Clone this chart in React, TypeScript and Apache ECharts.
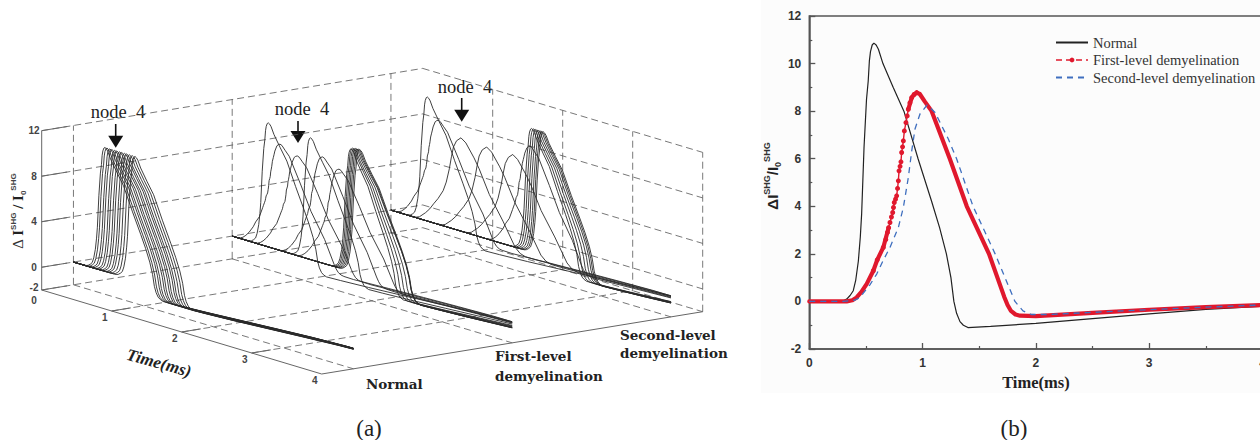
import React, { useEffect, useRef } from "react";
import * as echarts from "echarts";

// ---------- data: [time (ms), ΔI/I0] ----------
const normalCurve = [[0,0],[0.2,0.01],[0.3,0.03],[0.33,0.1],[0.36,0.25],[0.388,0.45],[0.41,0.9],[0.433,1.7],[0.45,2.7],[0.462,3.68],[0.483,6.47],[0.505,8.5],[0.52,9.27],[0.53,10.1],[0.54,10.5],[0.555,10.78],[0.57,10.86],[0.59,10.78],[0.61,10.6],[0.65,10],[0.74,9],[0.835,8],[0.96,6],[1.08,4.2],[1.15,3.1],[1.21,2],[1.25,1],[1.276,0],[1.3,-0.5],[1.33,-0.85],[1.36,-1],[1.4,-1.1],[1.6,-1.05],[2,-0.92],[2.5,-0.72],[3,-0.52],[3.5,-0.33],[4,-0.2]];
const firstRise = [[0.565,1.29],[0.6,1.75],[0.653,2.27],[0.675,2.6],[0.69,2.9],[0.7,3.1],[0.712,3.32],[0.725,3.55],[0.736,3.74],[0.743,3.95],[0.75,4.16],[0.761,4.3],[0.771,4.44],[0.779,4.75],[0.786,5.07],[0.792,5.49],[0.801,5.68],[0.809,5.87],[0.815,6.26],[0.823,6.5],[0.83,6.75],[0.839,7.17],[0.853,7.52],[0.864,7.8],[0.874,8.08],[0.888,8.35],[0.904,8.57],[0.925,8.7],[0.948,8.78]];
const firstLower = [[0,0],[0.2,0],[0.33,0],[0.38,0.05],[0.418,0.17],[0.46,0.4],[0.507,0.74],[0.565,1.29],[0.6,1.75],[0.653,2.27],[0.7,3.1]];
const firstUpper = [[0.874,8.08],[0.904,8.57],[0.925,8.7],[0.948,8.78],[0.975,8.72],[1.02,8.4],[1.08,8],[1.24,6],[1.39,4],[1.586,2],[1.72,0.2],[1.75,-0.15],[1.78,-0.4],[1.82,-0.55],[1.86,-0.6],[2,-0.62],[2.5,-0.48],[3,-0.35],[3.5,-0.24],[4,-0.15]];
const secondCurve = [[0,0],[0.3,0],[0.4,0.05],[0.447,0.17],[0.535,0.7],[0.595,1.15],[0.65,1.7],[0.712,2.27],[0.786,3.11],[0.83,3.95],[0.874,5.21],[0.904,6.33],[0.933,7.25],[0.977,7.88],[1.04,8.26],[1.11,7.94],[1.227,6.83],[1.3,6],[1.445,4],[1.64,2],[1.815,0],[1.886,-0.4],[1.96,-0.55],[2.1,-0.55],[2.5,-0.46],[3,-0.35],[3.5,-0.24],[4,-0.15]];
const firstCurve = [...firstLower, ...firstRise.filter((p) => p[0] > 0.7 && p[0] < 0.874), ...firstUpper];

// waterfall nodes: peak time, peak height, template curve, widening of the falling edge
const normalPeakTimes = [0.45,0.48,0.52,0.55,0.59,0.62,0.66,0.69,0.73,0.76,0.8,0.84,0.88];
const normalPeakHeights = [10.9,10.9,10.9,10.9,10.9,10.9,10.9,10.9,10.9,10.9,10.9,10.9,10.9];
const normalShapes = ["N","N","N","N","N","N","N","N","N","N","N","N","N"];
const normalFall = [1,1,1,1,1,1,1,1,1,1,1,1,1];
const firstPeakTimes = [0.516,0.683,0.93,1.12,1.29,1.526,1.7,1.72,1.74,1.76,1.78,1.8,1.82];
const firstPeakHeights = [10.9,9.34,8.76,10.7,9.34,8.7,10.8,10.9,10.9,10.95,10.95,10.97,10.97];
const firstShapes = ["N","F","F","N","F","F","N","N","N","N","N","N","N"];
const firstFall = [1,1,1,1,1,1,0.9,0.95,1,1.05,1.1,1.07,1.05];
const secondPeakTimes = [0.52,0.676,1.0,1.367,1.74,1.986,2.01,2.04,2.07,2.1,2.13,2.155,2.176];
const secondPeakHeights = [10.9,9.15,8.2,8.07,8.1,9.28,10.88,10.9,10.9,10.9,10.9,10.9,10.9];
const secondShapes = ["N","F","S","S","S","F","N","N","N","N","N","N","N"];
const secondFall = [1,1,1,1,1,0.95,0.95,0.97,1,1.02,1.03,1.03,1.03];

const zLevels = [12,8,4,0,-2];
const timeTicks = [1,2,3];
const depthTicks = [1,2,3];
const zLabels = ["12","8","4","0","-2"];
const timeLabels = ["0","1","2","3","4"];
const legendNames = ["Normal","First-level demyelination","Second-level demyelination"];

// oblique projection of the box: time, depth (1..3 groups), amplitude
const T_MAX = 4, D_MIN = 0.8, D_MAX = 3.2, Z_MIN = -2, Z_MAX = 12;
function project(t: number, d: number, z: number) {
  const f = (d - D_MIN) / (D_MAX - D_MIN);
  return [41.7 + 70 * t + 381 * f, 290 + 21 * t - 62.3 * f - 11.38 * (z - Z_MIN)];
}
const templates: Record<string, number[][]> = { N: normalCurve, F: firstCurve, S: secondCurve };
function peakOf(c: number[][]) { return c.reduce((a, b) => (b[1] > a[1] ? b : a)); }
function nodeCurve(shape: string, peakT: number, peakH: number, fall: number) {
  const c = templates[shape];
  const p = peakOf(c);
  const k = peakH / p[1];
  const out: number[][] = [[0, 0]];
  let last: number[] | null = null;
  for (const q of c) {
    const dt = q[0] - p[0];
    const t = peakT + (dt > 0 ? dt * fall : dt), z = q[1] * (q[1] > 0 ? k : 1);
    if (t <= 0) continue;
    if (t > T_MAX) {
      if (last) out.push([T_MAX, last[1] + ((z - last[1]) * (T_MAX - last[0])) / (t - last[0])]);
      last = null;
      break;
    }
    out.push([t, z]);
    last = [t, z];
  }
  if (last && last[0] < T_MAX) out.push([T_MAX, last[1]]);
  return out;
}
const BREAK = [NaN, NaN];
function wallSegments() {
  const s: number[][] = [];
  const seg = (a: number[], b: number[]) => { s.push(project(a[0], a[1], a[2]), project(b[0], b[1], b[2]), BREAK); };
  for (const z of zLevels) {
    seg([0, D_MIN, z], [0, D_MAX, z]);
    seg([0, D_MAX, z], [T_MAX, D_MAX, z]);
  }
  for (const t of timeTicks) {
    seg([t, D_MAX, Z_MIN], [t, D_MAX, Z_MAX]);
    seg([t, D_MIN, Z_MIN], [t, D_MAX, Z_MIN]);
  }
  for (const d of depthTicks) {
    seg([0, d, Z_MIN], [0, d, Z_MAX]);
    seg([0, d, Z_MIN], [T_MAX, d, Z_MIN]);
  }
  seg([T_MAX, D_MAX, Z_MIN], [T_MAX, D_MAX, Z_MAX]);
  return s;
}
function axisSegments() {
  const s: number[][] = [];
  const seg = (a: number[], b: number[]) => { s.push(project(a[0], a[1], a[2]), project(b[0], b[1], b[2]), BREAK); };
  seg([0, D_MIN, Z_MIN], [0, D_MIN, Z_MAX]);
  seg([0, D_MIN, Z_MIN], [T_MAX, D_MIN, Z_MIN]);
  seg([T_MAX, D_MIN, Z_MIN], [T_MAX, D_MAX, Z_MIN]);
  for (const z of zLevels) seg([0, D_MIN, z], [0, D_MIN + 0.16, z]);
  for (const t of timeTicks) seg([t, D_MIN, Z_MIN], [t, D_MIN + 0.12, Z_MIN]);
  return s;
}

const SERIF = "'Liberation Serif', serif";
const WIDE_SERIF = "'DejaVu Serif', serif";
const SANS = "'Liberation Sans', sans-serif";
const INK = "#2a2a2a";

function groupSeries(depth: number, times: number[], heights: number[], shapes: string[], falls: number[]) {
  return times.map((pt, i) => ({
    type: "line", xAxisIndex: 0, yAxisIndex: 0, symbol: "none", silent: true,
    lineStyle: { color: INK, width: 0.9 },
    data: nodeCurve(shapes[i], pt, heights[i], falls[i]).map((p) => project(p[0], depth, p[1])),
  }));
}

function arrow(x: number, y0: number, y1: number) {
  return [
    { type: "line", shape: { x1: x, y1: y0, x2: x, y2: y1 - 8 }, style: { stroke: "#111", lineWidth: 1.6 } },
    { type: "polygon", shape: { points: [[x - 7.5, y1 - 12], [x + 7.5, y1 - 12], [x, y1]] }, style: { fill: "#111" } },
  ];
}
function text(t: string, x: number, y: number, style: any, rotation = 0) {
  return { type: "text", x, y, rotation, style: { text: t, align: "center", verticalAlign: "middle", ...style } };
}

export default function App() {
  const ref = useRef<HTMLDivElement>(null);
  useEffect(() => {
    if (!ref.current) return;
    const chart = echarts.init(ref.current, undefined, { renderer: "svg" });
    const tickStyle = { font: `bold 10px ${SANS}`, fill: "#444" };
    const depthStyle = { font: `bold 13.5px ${WIDE_SERIF}`, fill: "#222", align: "left" };
    chart.setOption({
      animation: false,
      backgroundColor: "#fff",
      grid: [
        { left: 0, top: 0, width: 740, height: 440, show: false, outerBoundsMode: "none" },
        { left: 809.3, top: 16, width: 453.2, height: 333, show: true, borderColor: "#555", borderWidth: 1.5, outerBoundsMode: "none" },
      ],
      xAxis: [
        { gridIndex: 0, type: "value", min: 0, max: 740, show: false },
        {
          gridIndex: 1, type: "value", min: 0, max: 4, interval: 1,
          name: "Time(ms)", nameLocation: "middle", nameGap: 25,
          nameTextStyle: { fontFamily: SERIF, fontWeight: "bold", fontSize: 16.5, color: "#222" },
          axisLine: { onZero: false, lineStyle: { color: "#555", width: 1.5 } },
          axisTick: { inside: true, length: 6, lineStyle: { color: "#555", width: 1.3 } },
          minorTick: { show: true, splitNumber: 2, length: 3, lineStyle: { color: "#555", width: 1.2 } },
          axisLabel: { fontFamily: SANS, fontWeight: "bold", fontSize: 12, color: "#333", margin: 8, hideOverlap: false },
          splitLine: { show: false },
        },
      ],
      yAxis: [
        { gridIndex: 0, type: "value", min: 0, max: 440, inverse: true, show: false },
        {
          gridIndex: 1, type: "value", min: -2, max: 12, interval: 2,
          axisLine: { onZero: false, lineStyle: { color: "#555", width: 1.5 } },
          axisTick: { inside: true, length: 6, lineStyle: { color: "#555", width: 1.3 } },
          minorTick: { show: true, splitNumber: 2, length: 3, lineStyle: { color: "#555", width: 1.2 } },
          axisLabel: { fontFamily: SANS, fontWeight: "bold", fontSize: 12, color: "#333", margin: 8 },
          splitLine: { show: false },
        },
      ],
      legend: {
        data: [
          { name: legendNames[0], itemStyle: { opacity: 0 } },
          { name: legendNames[1], lineStyle: { type: [6, 4], width: 1.4 } },
          { name: legendNames[2], itemStyle: { opacity: 0 } },
        ],
        orient: "vertical", left: 1050, top: 30, itemWidth: 32, itemHeight: 6, itemGap: 2.5,
        textStyle: { fontFamily: SERIF, fontSize: 14.5, color: "#333" }, selectedMode: false,
      },
      series: [
        { type: "line", xAxisIndex: 0, yAxisIndex: 0, symbol: "none", silent: true, connectNulls: false, lineStyle: { color: "#555", width: 0.8, type: [7, 4] }, data: wallSegments() },
        { type: "line", xAxisIndex: 0, yAxisIndex: 0, symbol: "none", silent: true, connectNulls: false, lineStyle: { color: "#666", width: 1 }, data: axisSegments() },
        ...groupSeries(1, normalPeakTimes, normalPeakHeights, normalShapes, normalFall),
        ...groupSeries(2, firstPeakTimes, firstPeakHeights, firstShapes, firstFall),
        ...groupSeries(3, secondPeakTimes, secondPeakHeights, secondShapes, secondFall),
        { name: legendNames[0], type: "line", xAxisIndex: 1, yAxisIndex: 1, symbol: "none", lineStyle: { color: "#222", width: 1.2 }, itemStyle: { color: "#222" }, data: normalCurve },
        { name: legendNames[1], type: "line", xAxisIndex: 1, yAxisIndex: 1, symbol: "circle", symbolSize: 5, showAllSymbol: true, lineStyle: { color: "#e0182d", width: 1.4 }, itemStyle: { color: "#e0182d" }, data: firstRise },
        { name: "First-level (dense part)", type: "line", xAxisIndex: 1, yAxisIndex: 1, symbol: "none", lineStyle: { color: "#e0182d", width: 4.2, join: "round", cap: "round" }, itemStyle: { color: "#e0182d" }, data: firstLower },
        { name: "First-level (dense tail)", type: "line", xAxisIndex: 1, yAxisIndex: 1, symbol: "none", lineStyle: { color: "#e0182d", width: 4.2, join: "round", cap: "round" }, itemStyle: { color: "#e0182d" }, data: firstUpper },
        { name: legendNames[2], type: "line", xAxisIndex: 1, yAxisIndex: 1, symbol: "none", lineStyle: { color: "#3f6fbf", width: 1.3, type: [6, 5] }, itemStyle: { color: "#3f6fbf" }, data: secondCurve },
      ],
      graphic: [
        { type: "rect", z: -10, shape: { x: 761, y: 0, width: 499, height: 393 }, style: { fill: "#fcfcfc" } },
        text("node  4", 118, 112, { font: `18.5px ${SERIF}`, fill: "#222" }),
        text("node  4", 302, 109, { font: `18.5px ${SERIF}`, fill: "#222" }),
        text("node  4", 465, 87, { font: `18.5px ${SERIF}`, fill: "#222" }),
        ...arrow(115.7, 124, 147.7),
        ...arrow(298, 121, 143),
        ...arrow(461.7, 98, 121.7),
        ...zLevels.map((z, i) => {
          const p = project(0, D_MIN, z);
          return text(zLabels[i], 34, z === Z_MIN ? p[1] - 3 : p[1], tickStyle);
        }),
        ...timeLabels.map((l, i) => {
          const p = project(i, D_MIN, Z_MIN);
          return text(l, i === 0 ? 34 : p[0] - 7, i === 0 ? p[1] + 10 : p[1] + 6, tickStyle);
        }),
        text("Time(ms)", 159, 363, { font: `italic bold 17px ${SERIF}`, fill: "#222" }, -0.27),
        {
          type: "text", x: 18, y: 211, rotation: Math.PI / 2,
          style: {
            text: "{d|Δ} {m|I}{s|SHG}{m| / I}{b|0}{s|SHG}", align: "center", verticalAlign: "middle", fill: "#222",
            rich: {
              d: { font: `15px ${SERIF}`, fill: "#333", lineHeight: 18 },
              m: { font: `bold 15px ${SERIF}`, fill: "#222", lineHeight: 18 },
              s: { font: `bold 8px ${SANS}`, fill: "#444", verticalAlign: "top", lineHeight: 18 },
              b: { font: `bold 8px ${SANS}`, fill: "#444", verticalAlign: "bottom", lineHeight: 18 },
            },
          },
        },
        {
          type: "text", x: 772, y: 176, rotation: Math.PI / 2,
          style: {
            text: "{m|ΔI}{s|SHG}{m|/I}{b|0}{s|SHG}", align: "center", verticalAlign: "middle", fill: "#222",
            rich: {
              m: { font: `bold 15px ${SANS}`, fill: "#222", lineHeight: 20 },
              s: { font: `bold 9px ${SANS}`, fill: "#333", verticalAlign: "top", lineHeight: 20 },
              b: { font: `bold 9px ${SANS}`, fill: "#333", verticalAlign: "bottom", lineHeight: 20 },
            },
          },
        },
        text("Normal", 366, 384, depthStyle),
        text("First-level", 495, 356, depthStyle),
        text("demyelination", 495, 376, depthStyle),
        text("Second-level", 620, 335, depthStyle),
        text("demyelination", 620, 353, depthStyle),
        text("(a)", 369, 428, { font: `23px ${SERIF}`, fill: "#222" }),
        text("(b)", 1014, 428, { font: `23px ${SERIF}`, fill: "#222" }),
      ],
    });
    return () => chart.dispose();
  }, []);
  return <div ref={ref} style={{ position: "fixed", left: 0, top: 0, width: 1260, height: 440 }} />;
}
